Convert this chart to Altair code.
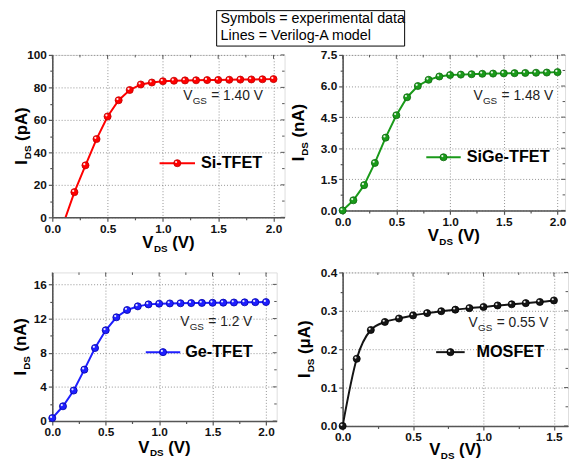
import json
import altair as alt
import pandas as pd

FONT = "Liberation Sans"

# ---------------- data ----------------
si_vds_exp = [0.2, 0.3, 0.4, 0.5, 0.6, 0.7, 0.8, 0.9, 1.0, 1.1, 1.2, 1.3, 1.4, 1.5, 1.6, 1.7, 1.8, 1.9, 2.0]
si_ids_exp = [15.5, 32.0, 48.2, 62.1, 72.1, 78.4, 81.8, 83.0, 83.8, 84.1, 84.3, 84.4, 84.5, 84.6, 84.7, 84.8, 84.9, 85.0, 85.1]
si_vds_mod = [0.12, 0.2, 0.3, 0.4, 0.5, 0.6, 0.7, 0.8, 0.9, 1.0, 1.1, 1.2, 1.3, 1.4, 1.5, 1.6, 1.7, 1.8, 1.9, 2.0]
si_ids_mod = [0.0, 15.5, 32.0, 48.2, 62.1, 72.1, 78.4, 81.8, 83.0, 83.8, 84.1, 84.3, 84.4, 84.5, 84.6, 84.7, 84.8, 84.9, 85.0, 85.1]

sige_vds = [0.0, 0.1, 0.2, 0.3, 0.4, 0.5, 0.6, 0.7, 0.8, 0.9, 1.0, 1.1, 1.2, 1.3, 1.4, 1.5, 1.6, 1.7, 1.8, 1.9, 2.0]
sige_ids = [0.0, 0.49, 1.22, 2.29, 3.51, 4.59, 5.46, 6.0, 6.3, 6.46, 6.53, 6.55, 6.57, 6.59, 6.6, 6.61, 6.62, 6.63, 6.64, 6.65, 6.67]

ge_vds = [0.0, 0.1, 0.2, 0.3, 0.4, 0.5, 0.6, 0.7, 0.8, 0.9, 1.0, 1.1, 1.2, 1.3, 1.4, 1.5, 1.6, 1.7, 1.8, 1.9, 2.0]
ge_ids = [0.35, 1.73, 3.57, 6.02, 8.55, 10.63, 12.15, 13.0, 13.43, 13.66, 13.74, 13.77, 13.79, 13.81, 13.83, 13.85, 13.86, 13.88, 13.9, 13.92, 13.93]

mos_vds = [0.0, 0.1, 0.2, 0.3, 0.4, 0.5, 0.6, 0.7, 0.8, 0.9, 1.0, 1.1, 1.2, 1.3, 1.4, 1.5]
mos_ids = [0.0, 0.175, 0.25, 0.271, 0.28, 0.288, 0.294, 0.299, 0.303, 0.307, 0.31, 0.314, 0.317, 0.32, 0.323, 0.327]

# tick values (major, all incl. minor)
x_major_2 = [0.0, 0.5, 1.0, 1.5, 2.0]
x_all_2 = [0.0, 0.25, 0.5, 0.75, 1.0, 1.25, 1.5, 1.75, 2.0]
x_major_15 = [0.0, 0.5, 1.0, 1.5]
x_all_15 = [0.0, 0.25, 0.5, 0.75, 1.0, 1.25, 1.5]
y_major_si = [0, 20, 40, 60, 80, 100]
y_all_si = [0, 10, 20, 30, 40, 50, 60, 70, 80, 90, 100]
y_major_sige = [0.0, 1.5, 3.0, 4.5, 6.0, 7.5]
y_all_sige = [0.0, 0.75, 1.5, 2.25, 3.0, 3.75, 4.5, 5.25, 6.0, 6.75, 7.5]
y_major_ge = [0, 4, 8, 12, 16]
y_all_ge = [0, 2, 4, 6, 8, 10, 12, 14, 16]
y_major_mos = [0.0, 0.1, 0.2, 0.3, 0.4]
y_all_mos = [0.0, 0.05, 0.1, 0.15, 0.2, 0.25, 0.3, 0.35, 0.4]

header_lines = ["Symbols = experimental data", "Lines = Verilog-A model"]

one = pd.DataFrame({"a": [0]})
AX = "#555"


def make_axis(all_vals, majors, fmt):
    test = "indexof(%s, datum.value) >= 0" % json.dumps(majors)
    return alt.Axis(
        values=all_vals, format=fmt, title=None, labelFlush=False,
        labelExpr="%s ? datum.label : ''" % test,
        tickSize={"condition": {"test": test, "value": 4}, "value": 2.5},
        gridOpacity={"condition": {"test": test, "value": 1}, "value": 0},
        gridDash=[1, 2], gridColor="#777", gridWidth=0.8,
        domainColor=AX, domainWidth=1.6, tickColor=AX, tickWidth=1.2,
        labelFont=FONT, labelFontWeight="bold", labelFontSize=12,
        labelColor="#111", labelPadding=2,
    )


def txt(x, y, s, size, bold=False, angle=0, color="#000", align="left", baseline="alphabetic"):
    kw = dict(font=FONT, fontSize=size, fontWeight="bold" if bold else "normal",
              color=color, align=align, baseline=baseline)
    if angle:
        kw["angle"] = angle
    return alt.Chart(one).mark_text(**kw).encode(
        x=alt.value(x), y=alt.value(y), text=alt.value(s))


def panel(label, color, dark, ex, ey, mx, my, xdom, ydom, xall, xmaj, yall, ymaj, yfmt,
          unit, unit_w, vgs, w, h, leg, vgs_pos, ytitle_x, xtitle_dy=31, interp="linear", extra=()):
    xs = alt.X("v:Q", scale=alt.Scale(domain=xdom, nice=False, zero=False),
               axis=make_axis(xall, xmaj, ".1f"))
    ys = alt.Y("i:Q", scale=alt.Scale(domain=ydom, nice=False, zero=False),
               axis=make_axis(yall, ymaj, yfmt))
    mdf = pd.DataFrame({"v": mx, "i": my})
    edf = pd.DataFrame({"v": ex, "i": ey})
    line = alt.Chart(mdf).mark_line(color=color, strokeWidth=2, interpolate=interp, clip=True).encode(x=xs, y=ys)
    pts = alt.Chart(edf).mark_point(shape="circle", filled=True, size=52, fill=color, stroke=dark,
                                    strokeWidth=0.8, opacity=1).encode(x=xs, y=ys)
    hl = alt.Chart(edf).mark_circle(size=5, color="white", opacity=0.9, xOffset=-1.2, yOffset=-1.2).encode(x=xs, y=ys)

    # mirrored inward ticks on the top and right frame
    xmaj_df = pd.DataFrame({"v": [v for v in xall if v in xmaj]})
    xmin_df = pd.DataFrame({"v": [v for v in xall if v not in xmaj]})
    ymaj_df = pd.DataFrame({"i": [v for v in yall if v in ymaj]})
    ymin_df = pd.DataFrame({"i": [v for v in yall if v not in ymaj]})
    mirror = [
        alt.Chart(xmaj_df).mark_rule(color=AX, strokeWidth=1).encode(x=xs, y=alt.value(0), y2=alt.value(4)),
        alt.Chart(xmin_df).mark_rule(color=AX, strokeWidth=1).encode(x=xs, y=alt.value(0), y2=alt.value(2.5)),
        alt.Chart(ymaj_df).mark_rule(color=AX, strokeWidth=1).encode(y=ys, x=alt.value(w - 4), x2=alt.value(w)),
        alt.Chart(ymin_df).mark_rule(color=AX, strokeWidth=1).encode(y=ys, x=alt.value(w - 2.5), x2=alt.value(w)),
    ]

    lx1, lx2, ly, ltx = leg
    layers = [line, pts, hl] + mirror
    layers.append(alt.Chart(one).mark_rule(color=color, strokeWidth=2).encode(
        x=alt.value(lx1), x2=alt.value(lx2), y=alt.value(ly)))
    layers.append(alt.Chart(one).mark_point(shape="circle", filled=True, size=52, fill=color, stroke=dark,
                                            strokeWidth=0.8, opacity=1).encode(
        x=alt.value((lx1 + lx2) / 2), y=alt.value(ly)))
    layers.append(alt.Chart(one).mark_circle(size=5, color="white", opacity=0.9).encode(
        x=alt.value((lx1 + lx2) / 2 - 1.2), y=alt.value(ly - 1.2)))
    layers.append(txt(ltx, ly, label, 16.5, bold=True, baseline="middle"))

    vx, vy = vgs_pos
    layers.append(txt(vx, vy, "V", 14, color="#222", baseline="middle"))
    layers.append(txt(vx + 9.6, vy + 5, "GS", 10, color="#222", baseline="middle"))
    layers.append(txt(vx + 28.5, vy, "= " + vgs + " V", 14, color="#222", baseline="middle"))

    # x title  V_DS (V)
    total = 11.3 + 0.5 + 13.9 + 4.7 + 22.7
    x0 = w / 2 - total / 2
    yb = h + xtitle_dy
    layers.append(txt(x0, yb, "V", 17, bold=True))
    layers.append(txt(x0 + 11.8, yb + 4, "DS", 10, bold=True))
    layers.append(txt(x0 + 30.4, yb, "(V)", 17, bold=True))

    # y title  I_DS (unit)
    total = 4.7 + 1 + 13.9 + 4.7 + unit_w
    y0 = h / 2 + total / 2
    layers.append(txt(ytitle_x, y0, "I", 17, bold=True, angle=270))
    layers.append(txt(ytitle_x + 4, y0 - 5.7, "DS", 10, bold=True, angle=270))
    layers.append(txt(ytitle_x, y0 - 24.3, unit, 17, bold=True, angle=270))

    layers.extend(extra)
    return alt.layer(*layers).properties(width=w, height=h)


# header box (drawn in the first panel's coordinates, above it) + left spacer
header_layers = [
    alt.Chart(one).mark_rect(fill="white", stroke="#000", strokeWidth=1).encode(
        x=alt.value(167), x2=alt.value(358), y=alt.value(-45), y2=alt.value(-9)),
    txt(171, -36, header_lines[0], 14.5, baseline="middle"),
    txt(171, -19, header_lines[1], 14.5, baseline="middle"),
    alt.Chart(one).mark_rule(strokeOpacity=0, opacity=0).encode(
        x=alt.value(-44), y=alt.value(0), y2=alt.value(10)),
]

p1 = panel("Si-TFET", "#ff0000", "#c00000", si_vds_exp, si_ids_exp, si_vds_mod, si_ids_mod,
           [0, 2.1], [0, 100], x_all_2, x_major_2, y_all_si, y_major_si, "d",
           "(pA)", 34, "1.40", 236, 165, (109, 145, 110, 151), (133, 42), -26, extra=header_layers)
p2 = panel("SiGe-TFET", "#1a9a1a", "#0b6a0b", sige_vds, sige_ids, sige_vds, sige_ids,
           [0, 2.07], [0, 7.5], x_all_2, x_major_2, y_all_sige, y_major_sige, ".1f",
           "(nA)", 34, "1.48", 226, 158, (85, 120, 104, 126), (133, 42), -39)
p3 = panel("Ge-TFET", "#1f1fff", "#0000a8", ge_vds, ge_ids, ge_vds, ge_ids,
           [0, 2.1], [0, 17.4], x_all_2, x_major_2, y_all_ge, y_major_ge, "d",
           "(nA)", 34, "1.2", 228, 151, (95, 130, 81, 135), (130, 50), -27, xtitle_dy=32)
p4 = panel("MOSFET", "#151515", "#000000", mos_vds, mos_ids, mos_vds, mos_ids,
           [0, 1.6], [0, 0.4], x_all_15, x_major_15, y_all_mos, y_major_mos, ".1f",
           "(μA)", 34, "0.55", 229, 156, (95, 124, 81, 136), (128, 51), -33, xtitle_dy=30,
           interp="monotone")

chart = alt.concat(
    p1, p2, p3, p4, columns=2, bounds="flush",
    align={"row": "all", "column": "none"},
    spacing={"row": 56, "column": 59},
).properties(
    padding={"left": 0, "top": -2, "right": 0, "bottom": 0}
).configure_view(stroke="#888", strokeWidth=1).configure(background="white")

chart.save("out.html", embed_options={"renderer": "svg", "actions": False})
